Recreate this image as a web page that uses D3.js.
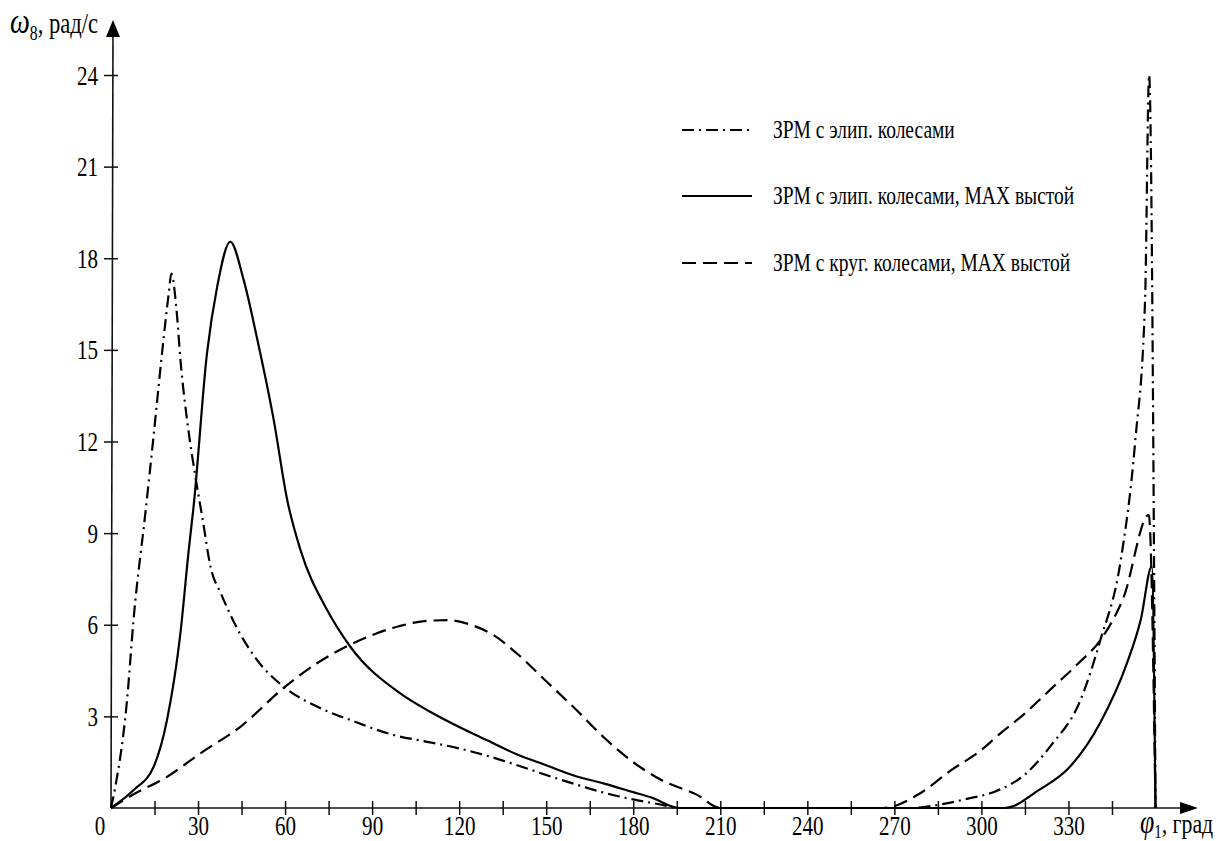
<!DOCTYPE html>
<html>
<head>
<meta charset="utf-8">
<style>
    body {
        margin: 0;
        background: #fff;
    }

    svg {
        display: block;
    }

    svg text {
        font-family: "Liberation Serif", "Times New Roman", Times, "DejaVu Serif", serif !important;
        fill: #000;
    }
</style>
</head>
<body>
<svg width="1222" height="841"></svg>

<script src="https://d3js.org/d3.v7.min.js"></script>
<script>
    // angle phi1 (deg) and omega8 (rad/s)
    let phiDashDot = [0, 1.5, 5.5, 7.8, 11.9, 14.7, 17.6, 19.9, 20.8, 22.5, 24, 26.5, 29, 31.5, 34.3, 38, 42.3, 50.3, 59.5, 71, 82.5, 97.4,
        110, 120, 130, 140, 150, 160, 170, 180, 190, 195, 240, 276, 285, 295, 305, 315, 324, 334, 341, 348, 353, 356.4, 357.8, 360]
    let valDashDot = [0, 0.7, 3.5, 6.2, 9.7, 12.2, 14.9, 16.85, 17.5, 16.4, 14.6, 12.5, 10.9, 9.5, 7.9, 7.0, 6.1, 4.85, 3.97, 3.32, 2.88, 2.39,
        2.15, 1.95, 1.7, 1.4, 1.08, 0.78, 0.5, 0.28, 0.1, 0, 0, 0, 0.1, 0.3, 0.55, 1.1, 2.05, 3.5, 5.5, 8.1, 12, 16.6, 24, 0]

    let phiSolid = [0, 7.8, 14.7, 19.3, 23.9, 26.8, 28.5, 33.1, 36.6, 41.1, 45.7, 50.3, 56.1, 60.7, 65.3, 74.5, 82.5, 99.7,
        110, 120, 130, 140, 150, 160, 170, 180, 186, 196, 250, 308, 320, 330, 341, 350, 355, 358.7, 360]
    let valSolid = [0, 0.59, 1.35, 2.88, 5.7, 8.45, 9.9, 14.9, 17.07, 18.54, 17.3, 15.4, 12.7, 10.1, 8.45, 6.48, 5.28, 3.75,
        3.15, 2.65, 2.2, 1.75, 1.4, 1.05, 0.8, 0.52, 0.35, 0, 0, 0, 0.6, 1.3, 2.8, 4.7, 6.2, 7.9, 0]

    let phiDashed = [0, 7.8, 19.3, 30.8, 44.6, 59.5, 71, 82.3, 99.2, 108, 116, 124, 132, 140, 150, 160, 170, 180, 190, 202, 210,
        240, 266, 280, 289, 300, 306, 315, 324, 333, 341, 349, 357.7, 360]
    let valDashed = [0, 0.45, 1.02, 1.79, 2.66, 3.93, 4.74, 5.34, 5.95, 6.12, 6.15, 6.0, 5.65, 5.05, 4.15, 3.25, 2.3, 1.5, 0.9, 0.43, 0,
        0, 0, 0.55, 1.2, 1.9, 2.4, 3.1, 3.9, 4.7, 5.5, 6.9, 9.6, 0]

    let xTicks = [15, 30, 45, 60, 75, 90, 105, 120, 135, 150, 165, 180, 195, 210, 225, 240, 255, 270, 285, 300, 315, 330, 345]
    let xLabels = [30, 60, 90, 120, 150, 180, 210, 240, 270, 300, 330]
    let yTicks = [3, 6, 9, 12, 15, 18, 21, 24]

    let legendLabels = [
        "ЗРМ с элип. колесами",
        "ЗРМ с элип. колесами, МАХ выстой",
        "ЗРМ с круг. колесами, МАХ выстой"
    ]
    let legendDash = ["12,5,2,5", null, "14,7"]

    let svg = d3.select("svg")
    let sx = 0.78 // the scanned lettering is narrow

    let x = d3.scaleLinear().domain([0, 360]).range([111, 1155.5])
    let y = d3.scaleLinear().domain([0, 24]).range([808, 75])

    // x axis, ticks cross the line
    let xAxis = svg.append("g")
        .attr("transform", "translate(0," + y(0) + ")")
        .call(d3.axisBottom(x).tickValues(xTicks).tickSize(0)
            .tickFormat(d => xLabels.includes(d) ? d : ""))
    xAxis.attr("font-family", null)
    xAxis.select(".domain").remove()
    xAxis.selectAll(".tick line")
        .attr("y1", -7).attr("y2", 7)
        .style("stroke", "#111").style("stroke-width", 1.5)
    xAxis.selectAll(".tick text")
        .attr("y", 0).attr("dy", 0)
        .attr("transform", "translate(0,27) scale(" + sx + ",1)")
        .style("font-size", "27px")

    let yAxis = svg.append("g")
        .attr("transform", "translate(" + x(0) + ",0)")
        .call(d3.axisLeft(y).tickValues(yTicks).tickSize(0))
    yAxis.attr("font-family", null)
    yAxis.select(".domain").remove()
    yAxis.selectAll(".tick line")
        .attr("x1", -7).attr("x2", 7)
        .style("stroke", "#111").style("stroke-width", 1.5)
    yAxis.selectAll(".tick text")
        .attr("x", 0).attr("dy", 0)
        .attr("transform", "translate(-13,9) scale(" + sx + ",1)")
        .style("font-size", "27px")

    // axis lines with arrows
    svg.append("line")
        .attr("x1", x(0)).attr("y1", y(0))
        .attr("x2", 1185).attr("y2", y(0))
        .style("stroke", "#111").style("stroke-width", 1.6)
    svg.append("path")
        .attr("d", "M1198," + y(0) + " L1180," + (y(0) - 6) + " L1180," + (y(0) + 6) + " Z")
        .style("fill", "#000")

    svg.append("line")
        .attr("x1", x(0)).attr("y1", y(0))
        .attr("x2", x(0) + 2).attr("y2", 30)
        .style("stroke", "#111").style("stroke-width", 1.6)
    svg.append("path")
        .attr("d", "M" + (x(0) + 2) + ",20 L" + (x(0) - 5) + ",37 L" + (x(0) + 9) + ",37 Z")
        .style("fill", "#000")

    // "0" at the origin
    svg.append("text")
        .attr("transform", "translate(100,835) scale(" + sx + ",1)")
        .attr("text-anchor", "middle")
        .style("font-size", "27px")
        .text("0")

    // axis titles
    let yt = svg.append("text")
        .attr("transform", "translate(10,33) scale(" + sx + ",1)")
        .style("font-size", "29px")
    yt.append("tspan").style("font-style", "italic").style("font-size", "36px").text("ω")
    yt.append("tspan").attr("dy", 7).style("font-size", "20px").text("8")
    yt.append("tspan").attr("dy", -7).text(", рад/с")

    let xt = svg.append("text")
        .attr("transform", "translate(1140,833) scale(" + sx + ",1)")
        .style("font-size", "28px")
    xt.append("tspan").style("font-style", "italic").style("font-size", "33px").text("φ")
    xt.append("tspan").attr("dy", 5).style("font-size", "19px").text("1")
    xt.append("tspan").attr("dy", -5).text(", град")

    // curves
    let line = d3.line()
        .x(d => x(d[0]))
        .y(d => y(d[1]))
        .curve(d3.curveMonotoneX)

    let series = [
        { phi: phiDashDot, val: valDashDot, dash: legendDash[0] },
        { phi: phiSolid, val: valSolid, dash: legendDash[1] },
        { phi: phiDashed, val: valDashed, dash: legendDash[2] }
    ]

    svg.selectAll(".curve")
        .data(series)
        .join("path")
        .attr("class", "curve")
        .attr("d", s => line(s.phi.map((p, i) => [p, s.val[i]])))
        .style("fill", "none")
        .style("stroke", "#000")
        .style("stroke-width", 2.2)
        .style("stroke-dasharray", s => s.dash)

    // legend
    let legendY = [130, 196, 263]
    let legend = svg.selectAll(".legend")
        .data(legendLabels)
        .join("g")
        .attr("class", "legend")
        .attr("transform", (d, i) => "translate(0," + legendY[i] + ")")

    legend.append("line")
        .attr("x1", 682).attr("x2", 752)
        .attr("y1", 0).attr("y2", 0)
        .style("stroke", "#000")
        .style("stroke-width", 2.2)
        .style("stroke-dasharray", (d, i) => legendDash[i])

    legend.append("text")
        .attr("transform", "translate(773,8) scale(" + sx + ",1)")
        .style("font-size", "25px")
        .text(d => d)
</script>
</body>
</html>
